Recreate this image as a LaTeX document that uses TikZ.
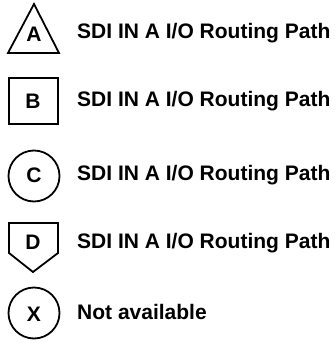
\documentclass[tikz,border=0pt]{standalone}
\usepackage{fontspec}
\setmainfont{Liberation Sans}
\usepackage{tikz}
\usetikzlibrary{positioning}

\begin{document}
\begin{tikzpicture}[x=1pt, y=-1pt, every node/.style={font=\bfseries\fontsize{21}{24}\selectfont, inner sep=0pt}, sym/.style={draw=black, line width=1.8pt, line join=miter}, lbl/.style={anchor=west}]
\useasboundingbox (0,0) rectangle (336,343);
% symbol letters
\node (a) at (34,34) {A};
\node (b) at (33,101) {B};
\node (c) at (34,175) {C};
\node (d) at (33,242) {D};
\node (x) at (34,314) {X};
% symbol outlines
\draw[sym] (8,53) -- (34,4) -- (59,53) -- cycle;
\draw[sym] (9,78) rectangle (58,124);
\draw[sym] (34,176) circle (25.5);
\draw[sym] (9,223) -- (58,223) -- (58,253) -- (33,272) -- (9,253) -- cycle;
\draw[sym] (34,313) circle (25.5);
% legend texts
\node[lbl] (ta) at (77,33) {SDI IN A I/O Routing Path};
\node[lbl] (tb) at (77,101) {SDI IN A I/O Routing Path};
\node[lbl] (tc) at (77,175) {SDI IN A I/O Routing Path};
\node[lbl] (td) at (77,243) {SDI IN A I/O Routing Path};
\node[lbl] (tx) at (77,312) {Not available};
\end{tikzpicture}
\end{document}
